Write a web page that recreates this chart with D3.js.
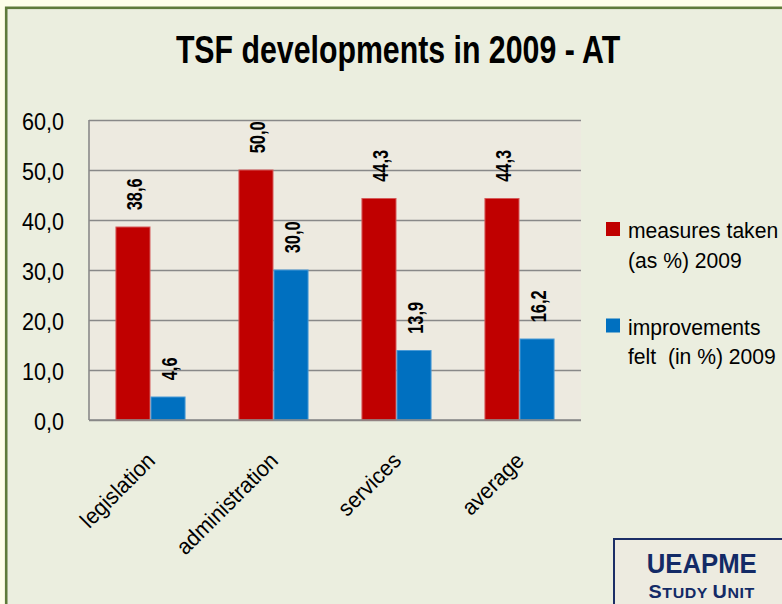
<!DOCTYPE html>
<html>
<head>
<meta charset="utf-8">
<script src="https://d3js.org/d3.v7.min.js"></script>
<style>
  body { margin: 0; background: #fefee9; }
  svg { display: block; font-family: "Liberation Sans", Arial, sans-serif; }
</style>
</head>
<body>
<div class="chart"></div>
<script>
// Chart data
var categories = ["legislation", "administration", "services", "average"];
var seriesNames = ["measures taken (as %) 2009", "improvements felt  (in %) 2009"];
var measuresTaken = [38.6, 50.0, 44.3, 44.3];
var improvementsFelt = [4.6, 30.0, 13.9, 16.2];
var yTicks = [0, 10, 20, 30, 40, 50, 60];

var legendLines = [["measures taken", "(as %) 2009"], ["improvements", "felt  (in %) 2009"]];
var colors = ["#c00000", "#0070c0"];
var strokes = ["#d65a5a", "#4a9ad6"];

var svgWidth = 782;
var svgHeight = 604;

// plot area inside the frame
var plot = { left: 89, top: 120, right: 581, bottom: 420 };

var svg = d3
  .select(".chart")
  .append("svg")
  .attr("width", svgWidth)
  .attr("height", svgHeight);

// page and frame
svg.append("rect")
  .attr("width", svgWidth)
  .attr("height", svgHeight)
  .attr("fill", "#fefee9");

svg.append("rect")
  .attr("x", 6.2)
  .attr("y", 7.8)
  .attr("width", 820)
  .attr("height", 640)
  .attr("fill", "#ebeedf")
  .attr("stroke", "#5f7a3b")
  .attr("stroke-width", 2.6);

// Title
svg.append("text")
  .attr("transform", "translate(398,62.7) scale(0.787,1)")
  .attr("text-anchor", "middle")
  .style("font-size", "38.5px")
  .style("font-weight", "bold")
  .text("TSF developments in 2009 - AT");

// Scales
var x0 = d3.scaleBand()
  .domain(categories)
  .range([plot.left, plot.right])
  .paddingInner(0.43)
  .paddingOuter(0.215);

var x1 = d3.scaleBand()
  .domain([0, 1])
  .range([0, x0.bandwidth()]);

var y = d3.scaleLinear()
  .domain([0, 60])
  .range([plot.bottom, plot.top]);

var locale = d3.formatLocale({ decimal: ",", thousands: ".", grouping: [3], currency: ["", "€"] });
var fmt = locale.format(".1f");

// plot background
svg.append("rect")
  .attr("x", plot.left)
  .attr("y", plot.top)
  .attr("width", plot.right - plot.left)
  .attr("height", plot.bottom - plot.top)
  .attr("fill", "#edeae0");

// y axis with gridlines
var leftAxis = d3.axisLeft(y)
  .tickValues(yTicks)
  .tickSize(-(plot.right - plot.left))
  .tickFormat(fmt);

var yAxis = svg.append("g")
  .attr("class", "y-axis")
  .attr("transform", "translate(" + plot.left + ",0)")
  .call(leftAxis);

yAxis.select(".domain").remove();
yAxis.selectAll(".tick line")
  .attr("stroke", "#898989")
  .attr("stroke-width", 1.6);
yAxis.selectAll(".tick text")
  .attr("x", 0)
  .attr("dy", null)
  .attr("transform", "translate(-25,9) scale(0.94,1)")
  .attr("fill", "#000")
  .style("font-size", "23px")
  .style("font-family", "'Liberation Sans', Arial, sans-serif");

// left edge of plot area
svg.append("line")
  .attr("x1", plot.left)
  .attr("x2", plot.left)
  .attr("y1", plot.top)
  .attr("y2", plot.bottom)
  .attr("stroke", "#898989")
  .attr("stroke-width", 1.6);

// bars
var groups = svg.selectAll(".group")
  .data(categories)
  .enter()
  .append("g")
  .attr("class", "group")
  .attr("transform", function(d) { return "translate(" + x0(d) + ",0)"; });

var barData = function(d, i) {
  return [
    { s: 0, value: measuresTaken[i] },
    { s: 1, value: improvementsFelt[i] }
  ];
};

groups.selectAll("rect")
  .data(barData)
  .enter()
  .append("rect")
  .attr("x", function(d) { return x1(d.s) + 0.5; })
  .attr("y", function(d) { return y(d.value); })
  .attr("width", x1.bandwidth() - 1)
  .attr("height", function(d) { return y(0) - y(d.value); })
  .attr("fill", function(d) { return colors[d.s]; })
  .attr("stroke", function(d) { return strokes[d.s]; })
  .attr("stroke-width", 1);

// value labels, rotated
groups.selectAll(".value")
  .data(barData)
  .enter()
  .append("text")
  .attr("class", "value")
  .attr("transform", function(d) {
    var cx = x1(d.s) + x1.bandwidth() / 2 + 8.6;
    return "translate(" + cx + "," + (y(d.value) - 16.7) + ") rotate(-90) scale(0.73,1)";
  })
  .style("font-size", "22.5px")
  .style("font-weight", "bold")
  .text(function(d) { return fmt(d.value); });

// bottom axis line
svg.append("line")
  .attr("x1", plot.left)
  .attr("x2", plot.right)
  .attr("y1", plot.bottom)
  .attr("y2", plot.bottom)
  .attr("stroke", "#898989")
  .attr("stroke-width", 1.6);

// category labels, rotated
svg.selectAll(".cat")
  .data(categories)
  .enter()
  .append("text")
  .attr("class", "cat")
  .attr("text-anchor", "end")
  .attr("transform", function(d) {
    var cx = x0(d) + x0.bandwidth() / 2 + 6;
    return "translate(" + cx + ",462) rotate(-45) scale(0.95,1)";
  })
  .style("font-size", "22.5px")
  .text(function(d) { return d; });

// legend
var legendY = [238, 334.5];
var legend = svg.selectAll(".legend")
  .data(seriesNames)
  .enter()
  .append("g")
  .attr("class", "legend");

legend.append("rect")
  .attr("x", 606)
  .attr("y", function(d, i) { return legendY[i] - 16; })
  .attr("width", 14)
  .attr("height", 14)
  .attr("fill", function(d, i) { return colors[i]; });

legend.each(function(d, i) {
  var g = d3.select(this);
  legendLines[i].forEach(function(line, j) {
    g.append("text")
      .attr("transform", "translate(628," + (legendY[i] + j * 29.5) + ") scale(0.96,1)")
      .attr("xml:space", "preserve")
      .style("white-space", "pre")
      .style("font-size", "22px")
      .text(line);
  });
});

// UEAPME study unit box
svg.append("rect")
  .attr("x", 614)
  .attr("y", 539)
  .attr("width", 220)
  .attr("height", 120)
  .attr("fill", "#edebe0")
  .attr("stroke", "#1b2e66")
  .attr("stroke-width", 2);

svg.append("text")
  .attr("transform", "translate(701.7,573.3) scale(0.92,1)")
  .attr("text-anchor", "middle")
  .attr("fill", "#132a66")
  .style("font-size", "28px")
  .style("font-weight", "bold")
  .text("UEAPME");

var studyUnit = svg.append("text")
  .attr("transform", "translate(701.7,597.5) scale(1.1,1)")
  .attr("text-anchor", "middle")
  .attr("fill", "#132a66")
  .style("font-weight", "bold")
  .style("letter-spacing", "0.5px");

[["S", 18], ["TUDY ", 14.5], ["U", 18], ["NIT", 14.5]].forEach(function(p) {
  studyUnit.append("tspan")
    .attr("xml:space", "preserve")
    .style("white-space", "pre")
    .style("font-size", p[1] + "px")
    .text(p[0]);
});
</script>
</body>
</html>
